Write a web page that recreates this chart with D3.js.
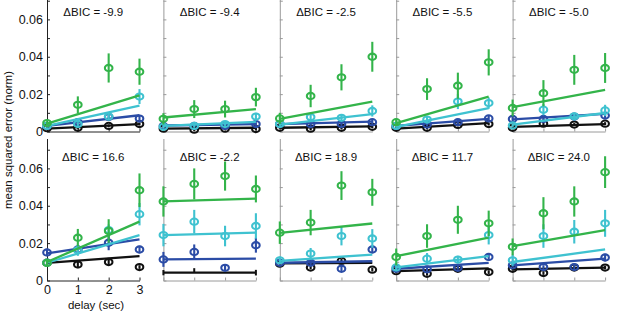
<!DOCTYPE html>
<html><head><meta charset="utf-8">
<script src="https://cdn.jsdelivr.net/npm/d3@7"></script>
<style>body{margin:0;background:#fff}</style>
</head><body>
<svg id="c" width="617" height="313"></svg>
<script>
const deltaBIC = ["-9.9","-9.4","-2.5","-5.5","-5.0","16.6","-2.2","18.9","11.7","24.0"];
const delays = [0,1,2,3];
const xTicks = [0,1,2,3];
const yTicks = [0,0.01,0.02,0.03,0.04,0.05,0.06,0.07];
const yTickLabels = [0,0.02,0.04,0.06];

const greenMean = [
[0.0045,0.0143,0.034,0.032],[0.0068,0.012,0.012,0.0184],[0.007,0.019,0.029,0.040],
[0.005,0.0227,0.0245,0.037],[0.0126,0.0205,0.033,0.034],[0.0094,0.0229,0.0265,0.0483],
[0.0423,0.0517,0.0559,0.049],[0.0256,0.031,0.0508,0.0472],[0.0126,0.0238,0.0325,0.0306],
[0.018,0.036,0.0423,0.058]];
const greenErr = [
[0.001,0.0045,0.0078,0.007],[0.003,0.0048,0.0045,0.005],[0.003,0.006,0.007,0.008],
[0.002,0.0058,0.007,0.007],[0.0045,0.007,0.008,0.008],[0.0015,0.0047,0.0063,0.009],
[0.0081,0.0083,0.0078,0.0072],[0.006,0.0068,0.0077,0.0072],[0.0045,0.0063,0.0075,0.0068],
[0.0045,0.0086,0.0081,0.0085]];
const greenFit = [[0.0042,0.0193],[0.0075,0.012],[0.0068,0.016],[0.0045,0.0187],[0.0131,0.0223],
[0.0099,0.0315],[0.0423,0.0438],[0.0255,0.0305],[0.013,0.0229],[0.0184,0.027]];

const cyanMean = [
[0.003,0.004,0.008,0.0187],[0.0025,0.003,0.004,0.008],[0.004,0.0078,0.0073,0.011],
[0.003,0.0064,0.016,0.0152],[0.0032,0.0117,0.0081,0.0113],[0.0095,0.0162,0.027,0.0355],
[0.0243,0.0315,0.0238,0.0292],[0.0108,0.0144,0.0238,0.0225],[0.007,0.0117,0.0112,0.0243],
[0.0108,0.0238,0.0261,0.0306]];
const cyanErr = [
[0.001,0.001,0.002,0.004],[0.001,0.001,0.001,0.002],[0.001,0.002,0.0015,0.003],
[0.001,0.002,0.004,0.003],[0.001,0.003,0.002,0.003],[0.0015,0.003,0.003,0.006],
[0.006,0.0063,0.0055,0.0068],[0.002,0.003,0.005,0.005],[0.002,0.003,0.002,0.005],
[0.003,0.0063,0.0063,0.0072]];
const cyanFit = [[0.003,0.0138],[0.003,0.0052],[0.0037,0.0093],[0.0025,0.0125],[0.0037,0.0099],
[0.0095,0.0243],[0.0243,0.0256],[0.0105,0.0139],[0.007,0.013],[0.0099,0.0166]];

const blueMean = [
[0.003,0.005,0.0078,0.0069],[0.003,0.003,0.003,0.004],[0.004,0.004,0.004,0.005],
[0.003,0.0037,0.005,0.007],[0.0067,0.0067,0.008,0.0085],[0.015,0.0166,0.0202,0.0166],
[0.0113,0.0153,0.0068,0.0189],[0.0095,0.0095,0.0063,0.0166],[0.0063,0.006,0.0068,0.0126],
[0.0081,0.0072,0.0072,0.0123]];
const blueErr = [
[0.0008,0.001,0.0015,0.0015],[0.0008,0.0008,0.0008,0.001],[0.0008,0.001,0.001,0.0012],
[0.0008,0.001,0.0012,0.0015],[0.0015,0.0015,0.0015,0.0015],[0.002,0.002,0.004,0.002],
[0.004,0.004,0.0015,0.004],[0.001,0.0015,0.0015,0.002],[0.001,0.001,0.001,0.002],
[0.001,0.001,0.001,0.002]];
const blueFit = [[0.003,0.0087],[0.0032,0.004],[0.004,0.0053],[0.003,0.0068],[0.0065,0.0094],
[0.0145,0.022],[0.0113,0.0117],[0.0095,0.0103],[0.0063,0.0094],[0.0081,0.0117]];

const blackMean = [
[0.0018,0.002,0.003,0.004],[0.0015,0.001,0.0015,0.0013],[0.002,0.0015,0.002,0.0025],
[0.002,0.002,0.0035,0.004],[0.002,0.0042,0.0037,0.0042],[0.0095,0.0086,0.0099,0.0072],
[null,null,null,null],[0.009,0.0069,0.0105,0.0058],[0.005,0.0036,0.0063,0.0045],
[0.0063,0.004,0.0069,0.0069]];
const blackErr = [
[0.0008,0.0008,0.0008,0.0008],[0.0008,0.0008,0.0008,0.0008],[0.0008,0.0008,0.0008,0.0008],
[0.0008,0.0008,0.0008,0.0008],[0.0008,0.0008,0.0008,0.0008],[0.001,0.002,0.002,0.001],
[0,0,0,0],[0.001,0.001,0.001,0.001],[0.001,0.001,0.001,0.001],[0.001,0.001,0.001,0.001]];
const blackFit = [[0.0015,0.004],[0.0015,0.002],[0.002,0.0027],[0.0015,0.0045],[0.0025,0.004],
[0.0094,0.013],[0.0042,0.0042],[0.0092,0.0094],[0.005,0.0065],[0.006,0.0069]];
// panel 7 black: error bars only [delay, low, high]
const blackBarsPanel7 = [[0,0.0028,0.0056],[1,0.0042,0.0066],[3,0.0027,0.0057]];

const series = [
  {mean: blackMean, err: blackErr, fit: blackFit, color: "#111111"},
  {mean: blueMean, err: blueErr, fit: blueFit, color: "#2b4ca6"},
  {mean: cyanMean, err: cyanErr, fit: cyanFit, color: "#3fc2d0"},
  {mean: greenMean, err: greenErr, fit: greenFit, color: "#33b44a"}
];

const svg = d3.select("#c");
const FONT = "'Liberation Sans', Arial, Helvetica, sans-serif";
const colStep = 116.4, firstX = 47, plotW = 92.5;
const zeroY = [131.5, 280.5], plotH = 142;

deltaBIC.forEach((lab, i) => {
  const col = i % 5, row = Math.floor(i / 5);
  const x0 = firstX + col * colStep;
  const x = d3.scaleLinear().domain([0, 3]).range([x0, x0 + plotW]);
  const y = d3.scaleLinear().domain([0, 0.076]).range([zeroY[row], zeroY[row] - plotH]);
  const labeled = col === 0;
  const axCol = labeled ? "#222" : "#9a9a9a";
  const g = svg.append("g");

  const yAx = d3.axisLeft(y).tickValues(yTicks).tickSizeInner(-3).tickSizeOuter(0).tickPadding(4)
    .tickFormat(d => {
      if (!labeled) return "";
      const hit = yTickLabels.find(v => Math.abs(v - d) < 1e-9);
      if (hit === undefined) return "";
      return hit === 0 ? "0" : d3.format(".2f")(hit);
    });
  const ya = g.append("g").attr("transform", `translate(${x0},0)`).call(yAx);
  ya.selectAll("path,line").attr("stroke", axCol);
  ya.selectAll("text").attr("font-family", FONT).attr("font-size", 12.5).attr("fill", "#111");

  const xAx = d3.axisBottom(x).tickValues(xTicks).tickSizeInner(-3).tickSizeOuter(0).tickPadding(5)
    .tickFormat(d => (labeled && row === 1) ? d : "");
  const xa = g.append("g").attr("transform", `translate(0,${zeroY[row]})`).call(xAx);
  xa.selectAll("path,line").attr("stroke", axCol);
  xa.selectAll("text").attr("font-family", FONT).attr("font-size", 12.5).attr("fill", "#111");

  g.append("text").attr("x", x0 + plotW / 2).attr("y", row === 0 ? 16 : 161)
    .attr("text-anchor", "middle").attr("font-family", FONT).attr("font-size", 11.5)
    .attr("fill", "#111").text("\u0394BIC = " + lab);

  series.forEach(s => {
    const f = s.fit[i];
    g.append("line").attr("x1", x(0)).attr("x2", x(3)).attr("y1", y(f[0])).attr("y2", y(f[1]))
      .attr("stroke", s.color).attr("stroke-width", 2.3);
    s.mean[i].forEach((m, j) => {
      if (m === null) return;
      const e = s.err[i][j];
      g.append("line").attr("x1", x(delays[j])).attr("x2", x(delays[j]))
        .attr("y1", y(m - e)).attr("y2", y(m + e))
        .attr("stroke", s.color).attr("stroke-width", 2.1);
      g.append("ellipse").attr("cx", x(delays[j])).attr("cy", y(m)).attr("rx", 3.8).attr("ry", 3.1)
        .attr("fill", "none").attr("stroke", s.color).attr("stroke-width", 2.1);
    });
  });
  if (i === 6) {
    blackBarsPanel7.forEach(b => {
      g.append("line").attr("x1", x(b[0])).attr("x2", x(b[0])).attr("y1", y(b[1])).attr("y2", y(b[2]))
        .attr("stroke", "#111").attr("stroke-width", 2);
    });
  }
});

svg.append("text").attr("transform", "translate(12,140) rotate(-90)").attr("text-anchor", "middle")
  .attr("font-family", FONT).attr("font-size", 11.5).attr("fill", "#111").text("mean squared error (norm)");
svg.append("text").attr("x", 96).attr("y", 309).attr("text-anchor", "middle")
  .attr("font-family", FONT).attr("font-size", 11.5).attr("fill", "#111").text("delay (sec)");
</script>
</body></html>
